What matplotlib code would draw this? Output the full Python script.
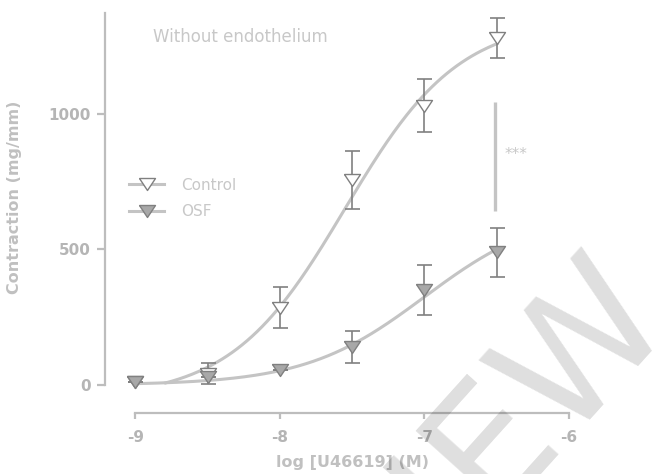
import numpy as np
import matplotlib
matplotlib.use("Agg")
import matplotlib.pyplot as plt
from matplotlib.lines import Line2D

# ---- data ----
log_conc = [-9, -8.5, -8, -7.5, -7, -6.5]
control_mean = [10, 42, 285, 756, 1030, 1280]
control_sem = [0, 38, 75, 108, 97, 75]
osf_mean = [10, 30, 55, 140, 350, 490]
osf_sem = [0, 0, 0, 58, 92, 90]

# fitted sigmoid parameters (bottom, top, logEC50, hill)
control_fit = (-50, 1350, -7.55, 1.1)
osf_fit = (0, 650, -7.0, 1.05)
control_fit_range = (-8.79, -6.5)
osf_fit_range = (-9.0, -6.5)

x_ticks = [-9, -8, -7, -6]
y_ticks = [0, 500, 1000]

def sigmoid(x, p):
    b, t, c, h = p
    return b + (t - b) / (1 + 10 ** (h * (c - x)))

AX = "#bdbdbd"
TXT = "#b5b5b5"
CURVE = "#c4c4c4"
EDGE = "#808080"

plt.rcParams['font.family'] = ['DejaVu Sans']
fig = plt.figure(figsize=(6.57, 4.74), dpi=100)
ax = fig.add_axes([105/657, 1-413/474, (569-105)/657, (413-13)/474])

ax.set_xlim(-9.21, -6.0)
ax.set_ylim(-103, 1372)

# curves
xs = np.linspace(*control_fit_range, 200)
ax.plot(xs, sigmoid(xs, control_fit), color=CURVE, lw=2.2, zorder=2)
xs2 = np.linspace(*osf_fit_range, 200)
ax.plot(xs2, sigmoid(xs2, osf_fit), color=CURVE, lw=2.2, zorder=2)

tri = [(-1, 0.75), (1, 0.75), (0, -0.75), (-1, 0.75)]

ax.errorbar(log_conc, control_mean, yerr=control_sem, fmt='none', ecolor=EDGE,
            elinewidth=1.2, capsize=5.4, capthick=1.2, zorder=3)
ax.plot(log_conc, control_mean, linestyle='none', marker=tri, ms=11.5,
        mfc='white', mec=EDGE, mew=1.0, zorder=4)
ax.errorbar(log_conc, osf_mean, yerr=osf_sem, fmt='none', ecolor=EDGE,
            elinewidth=1.2, capsize=5.4, capthick=1.2, zorder=5)
ax.plot(log_conc, osf_mean, linestyle='none', marker=tri, ms=11.5,
        mfc='#a8a8a8', mec=EDGE, mew=1.0, zorder=6)

# significance bar
ax.plot([-6.51, -6.51], [643, 1044], color=CURVE, lw=2.4, solid_capstyle='butt')
ax.text(-6.445, 849, "***", color="#c8c8c8", fontsize=11, va='center', ha='left')

# title inside
ax.text(-8.875, 1284, "Without endothelium", color="#c8c8c8", fontsize=12,
        ha='left', va='center')

# spines
for s in ['top', 'right']:
    ax.spines[s].set_visible(False)
ax.spines['left'].set_bounds(0, 1372)
ax.spines['bottom'].set_bounds(-9, -6)
for s in ['left', 'bottom']:
    ax.spines[s].set_color(AX)
    ax.spines[s].set_linewidth(1.6)

ax.set_xticks(x_ticks)
ax.set_xticklabels([str(v) for v in x_ticks])
ax.set_yticks(y_ticks)
ax.set_yticklabels([str(v) for v in y_ticks])
ax.tick_params(axis='both', colors=AX, width=1.6, labelcolor=TXT, labelsize=11)
ax.tick_params(axis='y', length=5.8, pad=4.5)
ax.tick_params(axis='x', length=4.5, pad=8)
for lab in ax.get_xticklabels() + ax.get_yticklabels():
    lab.set_fontweight('bold')

ax.set_ylabel("Contraction (mg/mm)", color="#c0c0c0", fontsize=11.5, fontweight='bold')
ax.yaxis.set_label_coords(-0.194, (413 - 197) / 400)
ax.set_xlabel("log [U46619] (M)", color="#c0c0c0", fontsize=11.5, fontweight='bold')
ax.xaxis.set_label_coords((352 - 105) / 464, -(463 - 413) / 400)
ax.xaxis.label.set_va('center')
ax.yaxis.label.set_va('center')

handles = [
    Line2D([], [], color=CURVE, lw=2.2, marker=tri, ms=11.5, mfc='white', mec=EDGE, mew=1.0),
    Line2D([], [], color=CURVE, lw=2.2, marker=tri, ms=11.5, mfc='#a8a8a8', mec=EDGE, mew=1.0),
]
leg = fig.legend(handles, ["Control", "OSF"], loc='center left',
                 bbox_to_anchor=(129/657, 1 - 198.5/474), frameon=False,
                 fontsize=11, handlelength=2.3, handletextpad=1.1,
                 labelspacing=0.75, borderpad=0, borderaxespad=0)
for t in leg.get_texts():
    t.set_color("#c8c8c8")

# watermark
fig.text(0.97, 0.41, "PREVIEW", fontsize=120, color='black', alpha=0.13,
         rotation=48, ha='right', va='center', rotation_mode='anchor', zorder=10)

fig.savefig("out.png", dpi=100)
